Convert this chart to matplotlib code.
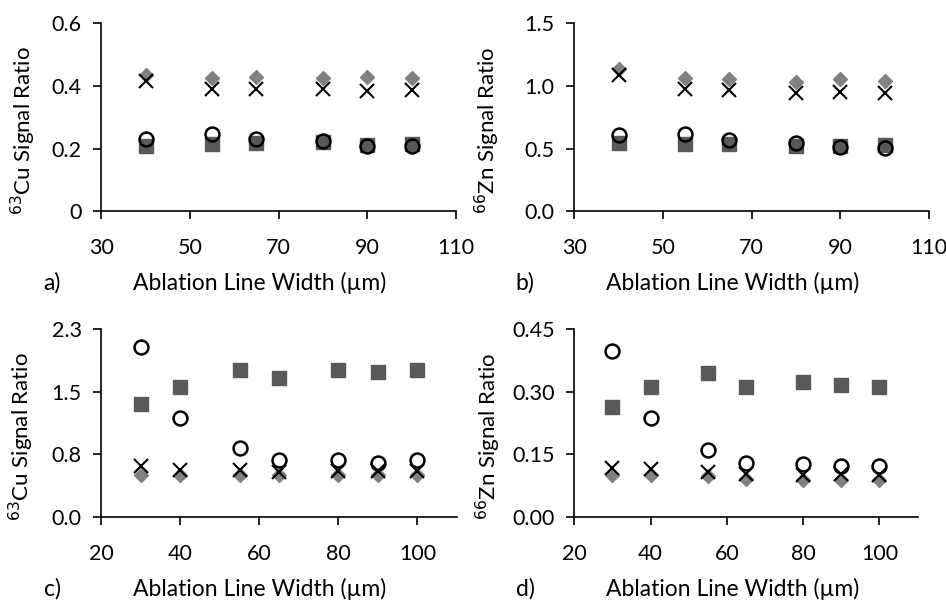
import numpy as np
import matplotlib.pyplot as plt

plt.rcParams['font.family'] = ['Lato', 'DejaVu Sans']

# top row: widths 40..100
w_top = [40, 55, 65, 80, 90, 100]
cu_sq_a = [0.209, 0.215, 0.218, 0.220, 0.212, 0.215]
cu_di_a = [0.435, 0.427, 0.428, 0.427, 0.428, 0.426]
cu_x_a = [0.417, 0.392, 0.392, 0.392, 0.385, 0.387]
cu_ci_a = [0.232, 0.246, 0.232, 0.225, 0.209, 0.209]

zn_sq_b = [0.541, 0.533, 0.533, 0.522, 0.522, 0.528]
zn_di_b = [1.132, 1.060, 1.055, 1.034, 1.055, 1.039]
zn_x_b = [1.087, 0.973, 0.967, 0.941, 0.949, 0.941]
zn_ci_b = [0.607, 0.615, 0.568, 0.541, 0.509, 0.506]

# bottom row: widths 30..100
w_bot = [30, 40, 55, 65, 80, 90, 100]
cu_sq_c = [1.377, 1.585, 1.797, 1.695, 1.797, 1.769, 1.797]
cu_di_c = [0.51, 0.51, 0.51, 0.51, 0.51, 0.51, 0.51]
cu_x_c = [0.625, 0.580, 0.572, 0.550, 0.560, 0.560, 0.560]
cu_ci_c = [2.083, 1.205, 0.846, 0.703, 0.694, 0.666, 0.703]

zn_sq_d = [0.264, 0.312, 0.344, 0.310, 0.324, 0.316, 0.310]
zn_di_d = [0.100, 0.100, 0.0975, 0.092, 0.088, 0.088, 0.088]
zn_x_d = [0.1175, 0.116, 0.108, 0.102, 0.100, 0.102, 0.100]
zn_ci_d = [0.398, 0.236, 0.160, 0.130, 0.126, 0.122, 0.122]

panels = [
    # rect, x, series, xlim, xticks, ylim, yticklabels, ylabel, tag, ylabel offset
    ([0.107, 0.648, 0.375, 0.313], w_top, (cu_sq_a, cu_di_a, cu_x_a, cu_ci_a),
     (30, 110), [30, 50, 70, 90, 110], 0.6, ['0', '0.2', '0.4', '0.6'], '$^{63}$Cu Signal Ratio', 'a)', 0.082),
    ([0.607, 0.648, 0.375, 0.313], w_top, (zn_sq_b, zn_di_b, zn_x_b, zn_ci_b),
     (30, 110), [30, 50, 70, 90, 110], 1.5, ['0.0', '0.5', '1.0', '1.5'], '$^{66}$Zn Signal Ratio', 'b)', 0.092),
    ([0.107, 0.138, 0.376, 0.314], w_bot, (cu_sq_c, cu_di_c, cu_x_c, cu_ci_c),
     (20, 110), [20, 40, 60, 80, 100], 2.3, ['0.0', '0.8', '1.5', '2.3'], '$^{63}$Cu Signal Ratio', 'c)', 0.084),
    ([0.607, 0.138, 0.363, 0.314], w_bot, (zn_sq_d, zn_di_d, zn_x_d, zn_ci_d),
     (20, 110), [20, 40, 60, 80, 100], 0.45, ['0.00', '0.15', '0.30', '0.45'], '$^{66}$Zn Signal Ratio', 'd)', 0.091),
]

fig = plt.figure(figsize=(9.46, 6), dpi=100)

for rect, w, (sq, di, xx, ci), xlim, xt, ymax, ylab, ylabel, tag, yoff in panels:
    ax = fig.add_axes(rect)
    ax.plot(w, sq, 's', ms=10.5, color='#595959', mec='#595959', ls='none')
    ax.plot(w, di, 'D', ms=7.5, color='#808080', mec='#808080', ls='none')
    ax.plot(w, xx, 'x', ms=10, color='black', mew=1.5, ls='none')
    ax.plot(w, ci, 'o', ms=10, mfc='none', mec='black', mew=1.8, ls='none')
    ax.set_xlim(*xlim)
    ax.set_ylim(0, ymax)
    ax.set_xticks(xt)
    ax.set_yticks(np.linspace(0, ymax, 4))
    ax.set_yticklabels(ylab)
    for s in ['top', 'right']:
        ax.spines[s].set_visible(False)
    for s in ['left', 'bottom']:
        ax.spines[s].set_linewidth(1.2)
    ax.tick_params(axis='x', direction='out', length=6, width=1.2, pad=13, labelsize=15.5, colors='black')
    ax.tick_params(axis='y', direction='out', length=6, width=1.2, pad=8, labelsize=15.5, colors='black')
    bb = ax.get_position()
    fig.text(bb.x0 - yoff, bb.y0 + bb.height * 0.43, ylabel, rotation=90,
             ha='center', va='center', fontsize=16)
    fig.text(bb.x0 + 0.167, bb.y0 - 0.119, 'Ablation Line Width (µm)',
             ha='center', va='center', fontsize=16.5)
    fig.text(bb.x0 - 0.052, bb.y0 - 0.119, tag, ha='center', va='center', fontsize=16.5)

fig.savefig('out.png', dpi=100)
